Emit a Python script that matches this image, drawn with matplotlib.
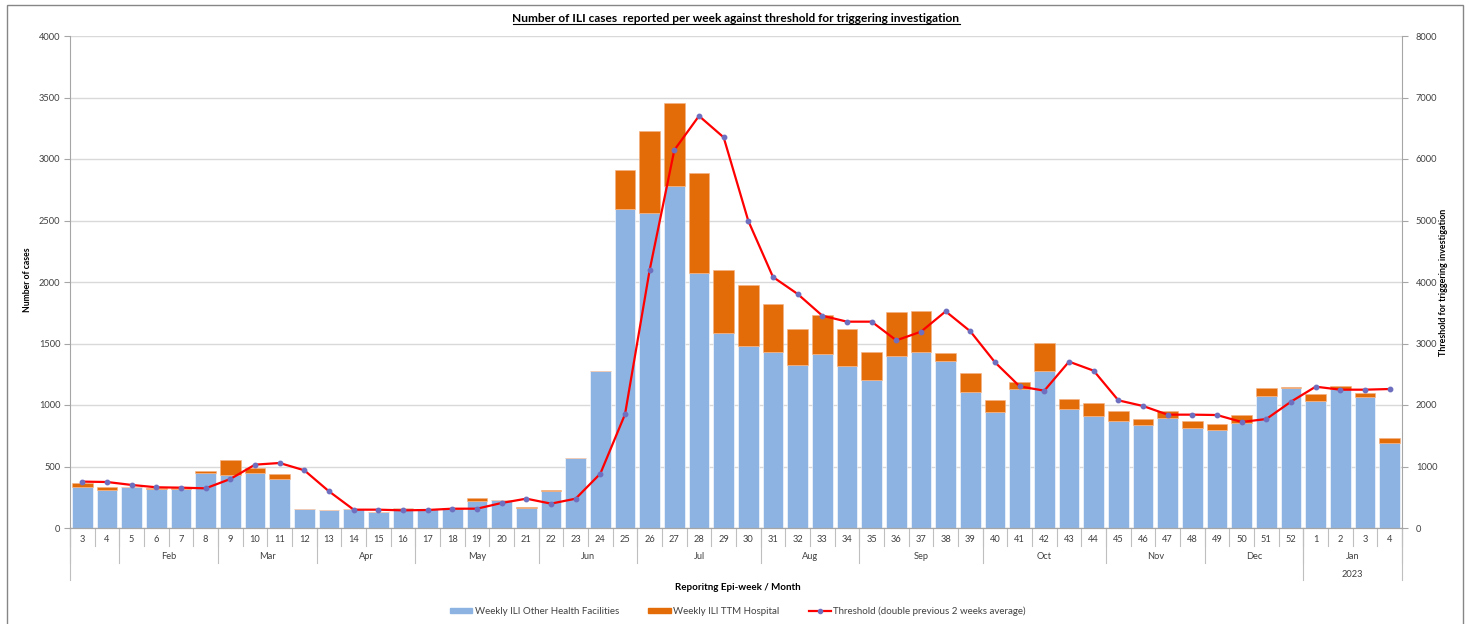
import matplotlib
matplotlib.use("Agg")
import matplotlib.pyplot as plt
from matplotlib.lines import Line2D
from matplotlib.patches import Patch, Rectangle
import matplotlib.transforms as mtransforms

plt.rcParams['font.family'] = ['Lato', 'DejaVu Sans']

# ---------------- data ----------------
weeks = [3, 4, 5, 6, 7, 8, 9, 10, 11, 12, 13, 14, 15, 16, 17, 18, 19, 20, 21, 22,
         23, 24, 25, 26, 27, 28, 29, 30, 31, 32, 33, 34, 35, 36, 37, 38, 39, 40,
         41, 42, 43, 44, 45, 46, 47, 48, 49, 50, 51, 52, 1, 2, 3, 4]

other_facilities = [331, 309, 331, 317, 317, 450, 431, 444, 401, 152, 144, 157, 127, 163,
                    152, 157, 217, 228, 165, 303, 566, 1274, 2593, 2563, 2780, 2070,
                    1588, 1477, 1434, 1328, 1417, 1317, 1206, 1398, 1434, 1355, 1103,
                    946, 1130, 1279, 967, 908, 873, 835, 897, 816, 794, 851, 1076,
                    1141, 1030, 1127, 1062, 688]

ttm_hospital = [32, 22, 5, 5, 5, 16, 122, 46, 41, 0, 0, 0, 0, 0,
                0, 3, 24, 0, 6, 9, 0, 5, 318, 667, 673, 816,
                510, 499, 390, 292, 315, 298, 228, 355, 328, 70, 154,
                92, 60, 228, 84, 108, 81, 48, 57, 57, 54, 65, 59,
                8, 57, 27, 38, 41]

threshold = [754, 748, 700, 662, 656, 645, 797, 1030, 1057, 938, 596, 298, 298, 287,
             293, 314, 314, 407, 477, 396, 477, 884, 1848, 4195, 6146, 6700,
             6352, 4992, 4081, 3805, 3452, 3355, 3355, 3051, 3192, 3523, 3198,
             2694, 2303, 2233, 2705, 2558, 2076, 1984, 1843, 1843, 1837, 1724, 1772,
             2054, 2298, 2249, 2249, 2260]

month_groups = ["", "Feb", "Mar", "Apr", "May", "Jun", "Jul", "Aug", "Sep", "Oct", "Nov", "Dec", "Jan"]
month_sizes = [2, 4, 4, 4, 5, 4, 5, 4, 5, 5, 4, 4, 4]
year_groups = ["", "2023"]
year_sizes = [50, 4]

left_ticks = [0, 500, 1000, 1500, 2000, 2500, 3000, 3500, 4000]
right_ticks = [0, 1000, 2000, 3000, 4000, 5000, 6000, 7000, 8000]

title = "Number of ILI cases  reported per week against threshold for triggering investigation"
xlabel = "Reporitng Epi-week / Month"
ylabel_left = "Number of cases"
ylabel_right = "Threshold for triggering investigation"
legend_labels = ["Weekly ILI Other Health Facilities", "Weekly ILI TTM Hospital",
                 "Threshold (double previous 2 weeks average)"]

# ---------------- style ----------------
BLUE = "#8DB3E2"
ORANGE = "#E36C09"
RED = "#FF0000"
MARK = "#6F6FC0"
GRID = "#D9D9D9"
AXCOL = "#A6A6A6"
TXT = "#404040"
FS = 6.7

W, H = 1469, 624
fig = plt.figure(figsize=(W / 100, H / 100), dpi=100)
ax = fig.add_axes([70 / W, 1 - 528 / H, (1402 - 70) / W, (528 - 36) / H])
ax2 = ax.twinx()

x = list(range(len(weeks)))
bw = 0.83
ax.bar(x, other_facilities, width=bw, color=BLUE, edgecolor="white", linewidth=0.4, zorder=2)
ax.bar(x, ttm_hospital, width=bw, bottom=other_facilities, color=ORANGE,
       edgecolor="#F4B183", linewidth=0.4, zorder=2)

ax2.plot(x, threshold, color=RED, linewidth=1.6, marker="o", markersize=3.2,
         markerfacecolor=MARK, markeredgecolor=MARK, zorder=3)

ax.set_xlim(-0.5, len(weeks) - 0.5)
ax.set_ylim(0, 4000)
ax2.set_ylim(0, 8000)
ax.set_yticks(left_ticks)
ax2.set_yticks(right_ticks)
ax.yaxis.grid(True, color=GRID, linewidth=1.0, zorder=0)
ax.set_axisbelow(True)

for a in (ax, ax2):
    a.spines["top"].set_visible(False)
    for s in ("left", "right", "bottom"):
        a.spines[s].set_color(AXCOL)
        a.spines[s].set_linewidth(0.8)
ax.spines["right"].set_visible(False)
ax2.spines["left"].set_visible(False)

ax.tick_params(axis="y", labelsize=FS, colors=TXT, length=4, width=0.8, color=AXCOL, pad=3)
ax2.tick_params(axis="y", labelsize=FS, colors=TXT, length=4, width=0.8, color=AXCOL, pad=6)
for lab in ax.get_yticklabels() + ax2.get_yticklabels():
    lab.set_color(TXT)

ax.set_xticks(x)
ax.set_xticklabels([str(w) for w in weeks])
ax.tick_params(axis="x", length=0, labelsize=FS, colors=TXT, pad=5)

# category axis separators
trans = mtransforms.blended_transform_factory(ax.transData, ax.transAxes)
def vline(xp, y0, y1):
    ax.add_line(Line2D([xp, xp], [y0, y1], transform=trans, color="#BFBFBF",
                       linewidth=0.8, clip_on=False))

y_week, y_month, y_year = -0.0366, -0.0711, -0.1057
for i in range(len(weeks) + 1):
    vline(i - 0.5, 0, y_week)
pos = 0
for name, n in zip(month_groups, month_sizes):
    vline(pos - 0.5, 0, y_month)
    ax.text(pos + (n - 1) / 2, -0.0589, name, transform=trans, ha="center", va="center",
            fontsize=FS, color=TXT)
    pos += n
vline(pos - 0.5, 0, y_month)
pos = 0
for name, n in zip(year_groups, year_sizes):
    vline(pos - 0.5, 0, y_year)
    ax.text(pos + (n - 1) / 2, -0.0935, name, transform=trans, ha="center", va="center",
            fontsize=FS, color=TXT)
    pos += n
vline(pos - 0.5, 0, y_year)

# labels
fig.text(28 / W, 1 - 280 / H, ylabel_left, rotation=90, ha="center", va="center",
         fontsize=6.2, fontweight="bold", color="black")
fig.text(1444 / W, 1 - 282 / H, ylabel_right, rotation=90, ha="center", va="center",
         fontsize=6.4, fontweight="bold", color="black")
fig.text(738 / W, 1 - 587 / H, xlabel, ha="center", va="center",
         fontsize=7.0, fontweight="bold", color="black")
t = fig.text(736 / W, 1 - 18 / H, title, ha="center", va="center",
             fontsize=8.6, fontweight="bold", color="black")

# legend
handles = [Patch(facecolor=BLUE, edgecolor=BLUE),
           Patch(facecolor=ORANGE, edgecolor=ORANGE),
           Line2D([0], [0], color=RED, linewidth=1.6, marker="o", markersize=3,
                  markerfacecolor=MARK, markeredgecolor=MARK)]
fig.legend(handles, legend_labels, loc="center", bbox_to_anchor=(738 / W, 1 - 611 / H),
           ncol=3, frameon=False, fontsize=7.0, handlelength=2.3, handleheight=0.5,
           columnspacing=3.0, handletextpad=0.25, labelcolor=TXT)

# outer chart frame
fig.patches.append(Rectangle((7 / W, -0.02), (1463 - 7) / W, 1 - 5 / H + 0.02,
                             transform=fig.transFigure, fill=False,
                             edgecolor="#868686", linewidth=1.0))

# underline title
fig.canvas.draw()
bb = t.get_window_extent(fig.canvas.get_renderer())
yline = bb.y0 - 0.5
fig.add_artist(Line2D([bb.x0 / W, bb.x1 / W], [yline / H, yline / H],
                      transform=fig.transFigure, color="black", linewidth=0.8))

fig.savefig("out.png", dpi=100)
